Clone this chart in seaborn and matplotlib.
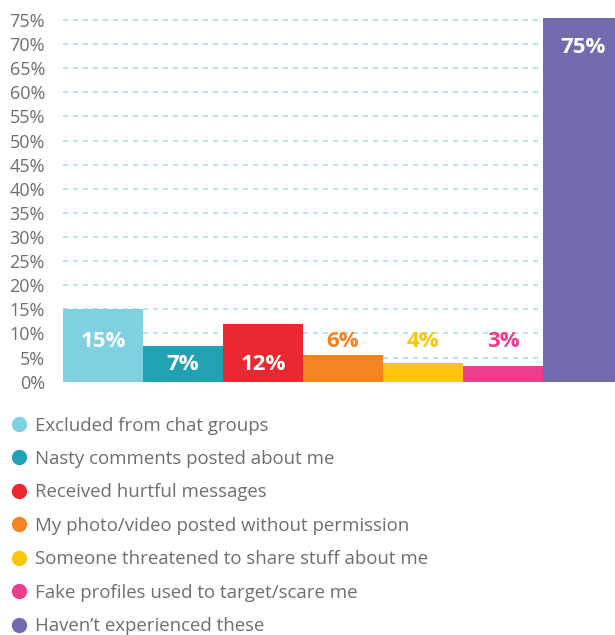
import pandas as pd
import matplotlib.pyplot as plt
from matplotlib.lines import Line2D
import seaborn as sns

# data
categories = [
    "Excluded from chat groups",
    "Nasty comments posted about me",
    "Received hurtful messages",
    "My photo/video posted without permission",
    "Someone threatened to share stuff about me",
    "Fake profiles used to target/scare me",
    "Haven\u2019t experienced these",
]
values = [15.0, 7.4, 12.0, 5.5, 3.9, 3.3, 75.4]
labels = ["15%", "7%", "12%", "6%", "4%", "3%", "75%"]
colors = ["#7fd0e0", "#21a2b2", "#e9282f", "#f58322", "#fdc40f", "#ec3e8e", "#716bb0"]

df = pd.DataFrame({"cat": categories, "val": values})

sns.set_theme(style="white")
plt.rcParams["font.family"] = ["Open Sans", "DejaVu Sans"]

fig = plt.figure(figsize=(6.15, 6.35), dpi=100)
ax = fig.add_axes([0.1024, 0.399, 0.9106, 0.577])

sns.barplot(data=df, x="cat", y="val", hue="cat", palette=colors,
            dodge=False, width=1.0, legend=False, ax=ax, saturation=1,
            linewidth=0)

ax.set_xlim(-0.5, 6.5)
ax.set_ylim(0, 76)
ax.set_yticks(range(0, 80, 5))
ax.set_yticklabels([f"{t}%" for t in range(0, 80, 5)], color="#6d6e70", fontsize=13)
ax.tick_params(axis="y", length=0, pad=13)
ax.set_xticks([])
ax.set_xlabel("")
ax.set_ylabel("")
for s in ax.spines.values():
    s.set_visible(False)
ax.set_axisbelow(True)
ax.yaxis.grid(True, color="#a9dce8", linestyle=(0, (3, 3)), linewidth=1.2)

# value labels
for i, (v, lab, c) in enumerate(zip(values, labels, colors)):
    if v > 50:
        ax.text(i, v - 6, lab, ha="center", va="center", color="white",
                fontsize=16, fontweight="bold")
    elif i == 0:
        ax.text(i, 8.4, lab, ha="center", va="center", color="white",
                fontsize=16, fontweight="bold")
    elif i in (1, 2):
        ax.text(i, 3.5, lab, ha="center", va="center", color="white",
                fontsize=16, fontweight="bold")
    else:
        ax.text(i, 8.4, lab, ha="center", va="center", color=c,
                fontsize=16, fontweight="bold")

# legend
handles = [Line2D([0], [0], marker="o", linestyle="", markersize=10,
                  markerfacecolor=c, markeredgecolor=c) for c in colors]
fig.legend(handles, categories, loc="upper left", bbox_to_anchor=(0.018, 0.344),
           frameon=False, fontsize=13.4, labelcolor="#6d6e70", handlelength=0.8,
           handletextpad=0.5, labelspacing=0.83, borderpad=0, borderaxespad=0)

plt.savefig("out.png", dpi=100)
